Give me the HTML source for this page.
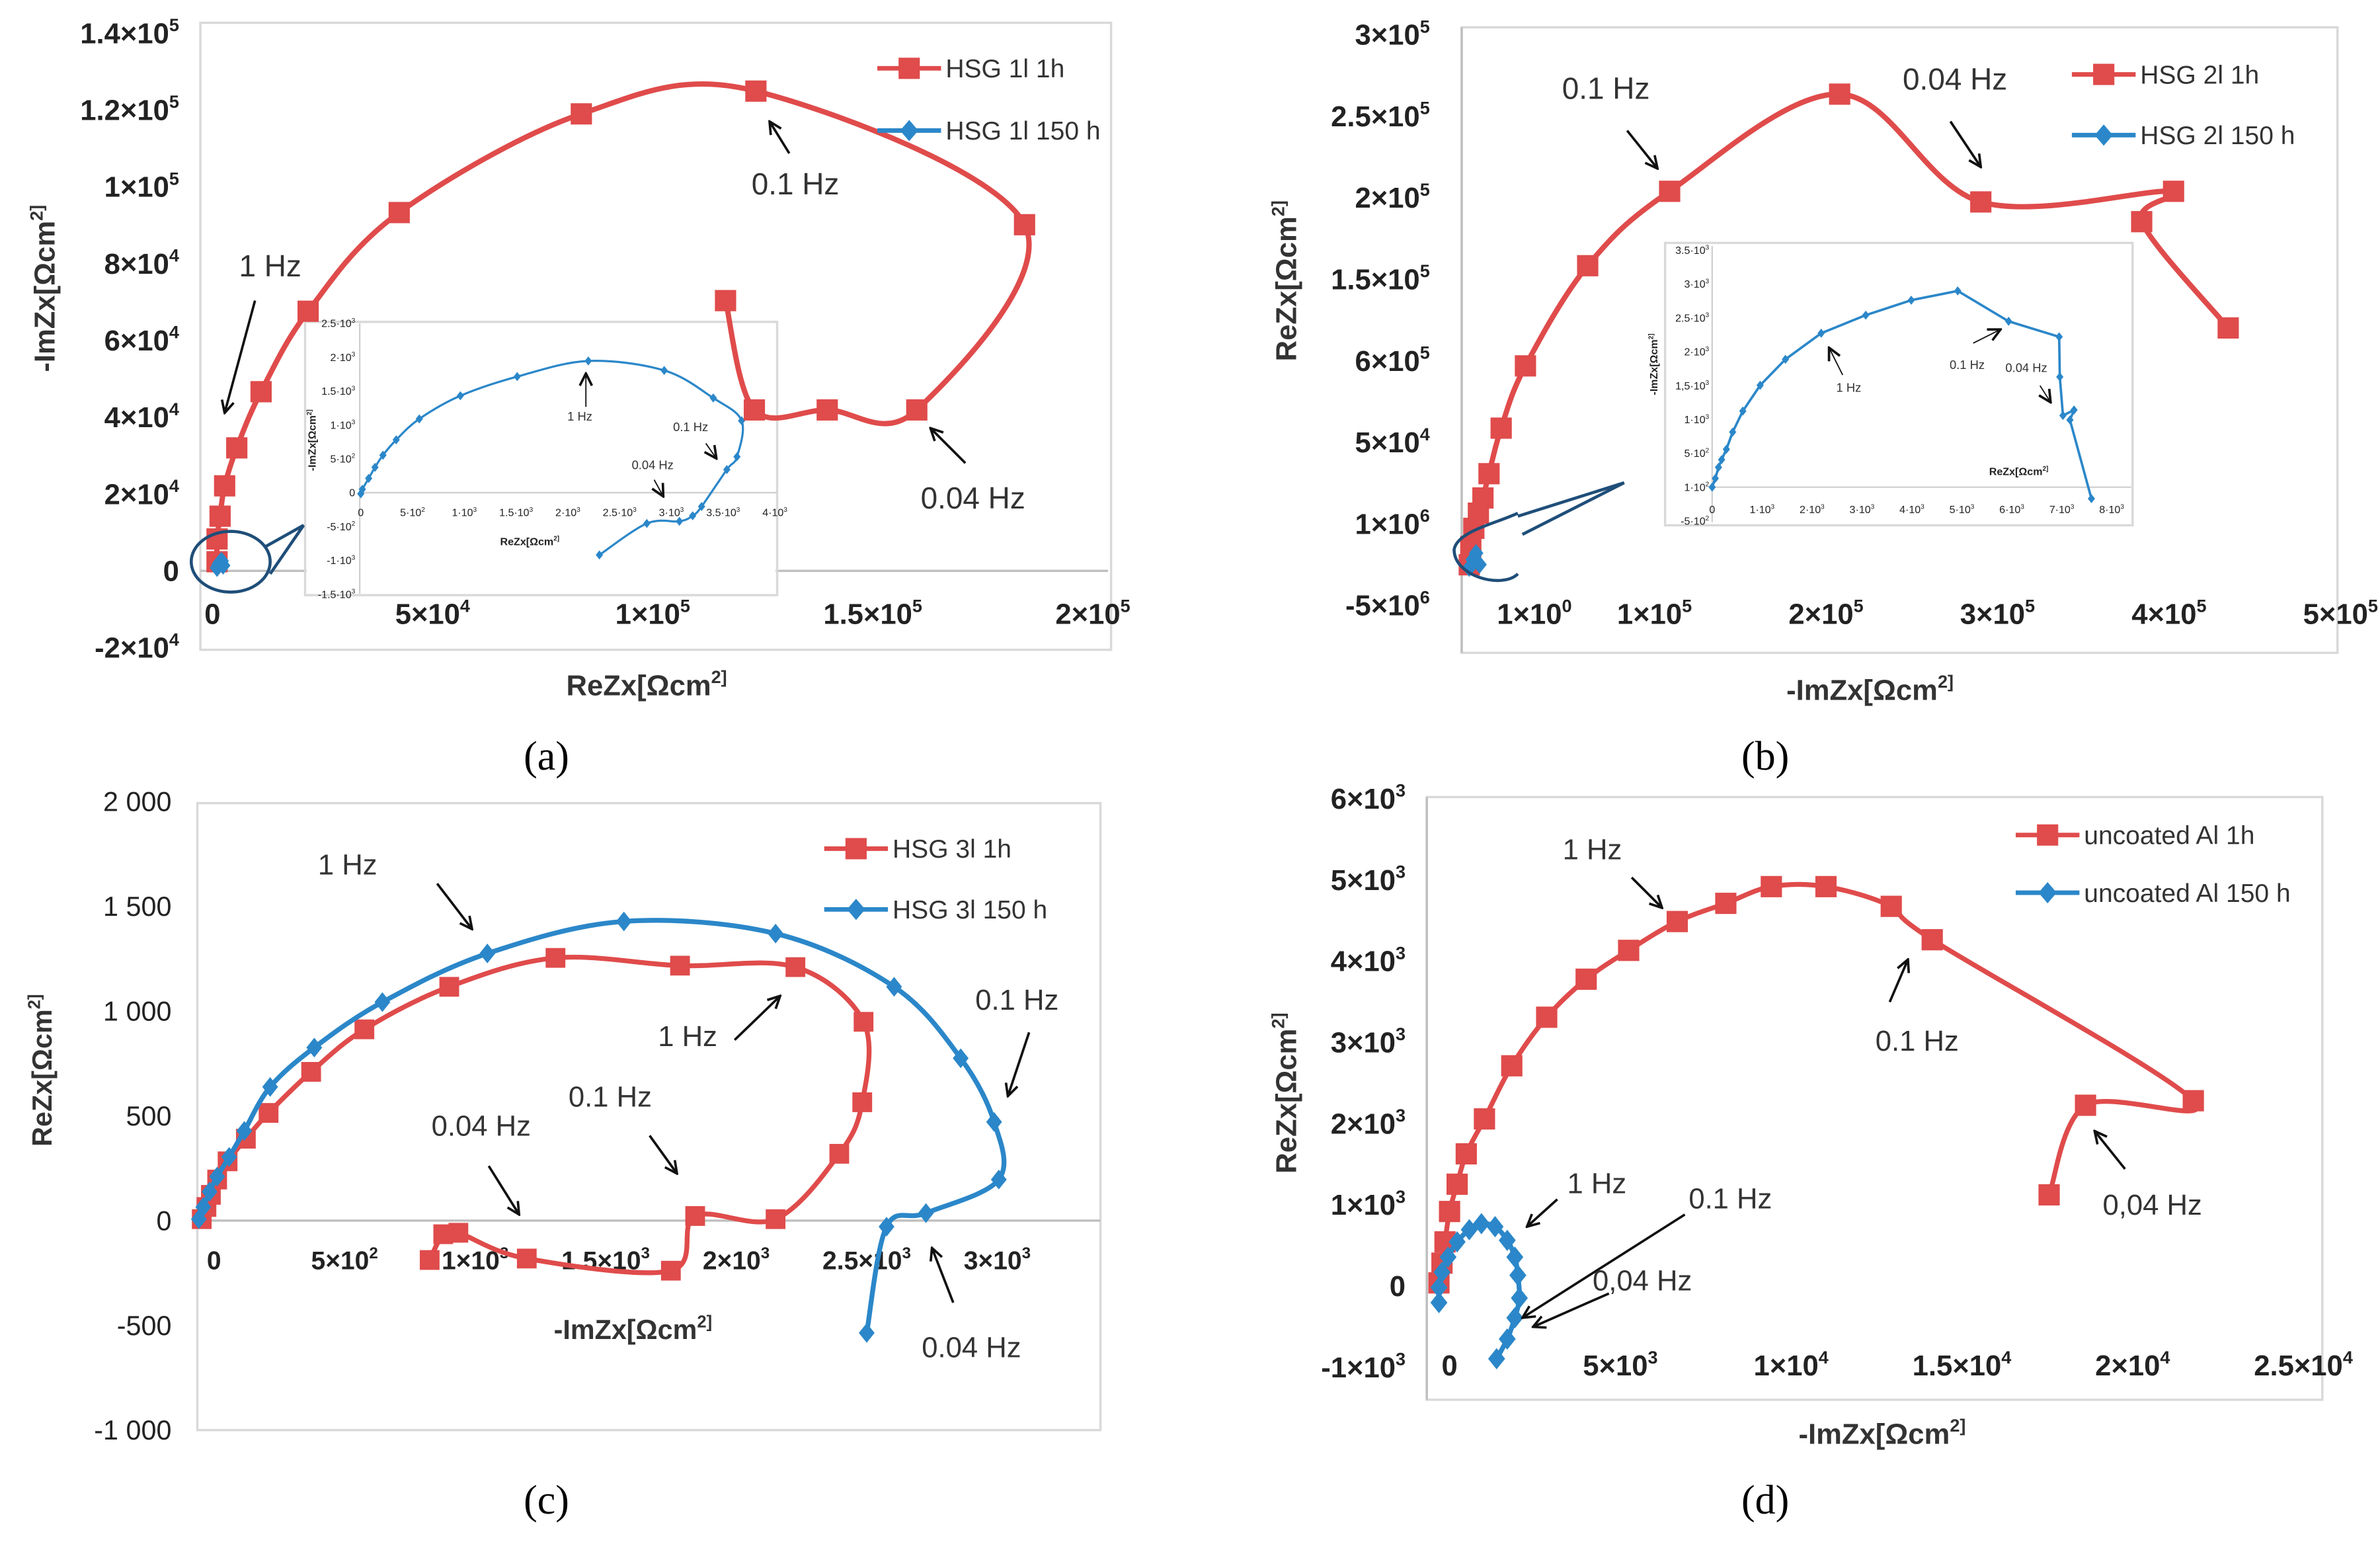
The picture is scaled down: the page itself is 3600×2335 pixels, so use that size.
<!DOCTYPE html>
<html><head><meta charset="utf-8"><style>html,body{margin:0;padding:0;background:#fff}svg{display:block}</style></head>
<body>
<svg id="fig" xmlns="http://www.w3.org/2000/svg" width="3600" height="2335" viewBox="0 0 1568 1017" font-family="Liberation Sans, DejaVu Sans, sans-serif">
<defs><marker id="ah" markerWidth="10" markerHeight="10" refX="9" refY="5" orient="auto" markerUnits="userSpaceOnUse"><path d="M1,1 L9,5 L1,9" fill="none" stroke="#111" stroke-width="1.6"/></marker></defs>
<rect width="1568" height="1017" fill="#fff"/>
</svg>
<script>
// ---------- data ----------
const aRedX=[1034,1034,1724,2759,5517,11034,21724,42414,83793,123448,184483,160000,139655,123103,116552];
const aRedY=[2372,8300,14229,22134,32016,46640,67589,93281,118972,124901,90119,41897,41897,41897,70356];
const aBlueX=[0,400,800,1200,1600];
const aBlueY=[0,900,1500,1800,600];
const aInX=[0,15,76,137,214,342,565,962,1511,2198,2931,3405,3679,3634,3536,3292,3206,3078,2763,2305];
const aInY=[-16,49,211,374,553,780,1089,1431,1714,1945,1805,1398,1063,530,341,-205,-341,-423,-455,-920];
const aXTicks=[0,50000,100000,150000,200000];
const aXLabels=["0","5×10^4","1×10^5","1.5×10^5","2×10^5"];
const aYTicks=[-20000,0,20000,40000,60000,80000,100000,120000,140000];
const aYLabels=["-2×10^4","0","2×10^4","4×10^4","6×10^4","8×10^4","1×10^5","1.2×10^5","1.4×10^5"];
const aInXTicks=[0,500,1000,1500,2000,2500,3000,3500,4000];
const aInXLabels=["0","5·10^2","1·10^3","1.5·10^3","2·10^3","2.5·10^3","3·10^3","3.5·10^3","4·10^3"];
const aInYTicks=[-1500,-1000,-500,0,500,1000,1500,2000,2500];
const aInYLabels=["-1.5·10^3","-1·10^3","-5·10^2","0","5·10^2","1·10^3","1.5·10^3","2·10^3","2.5·10^3"];

const bRedX=[-7965,-7080,-5310,-2655,0,3540,10619,24779,61062,108850,207965,290265,402655,384071,434513];
const bRedY=[-25140,-13966,-2793,6518,15829,30726,58659,96834,158287,203911,263501,197393,203911,185289,120112];
const bBlueX=[-8000,-6000,-4000,-2000];
const bBlueY=[-27000,-22000,-18000,-25000];
const bInX=[0,63,127,190,285,411,614,962,1468,2184,3076,3987,4918,5937,6949,6962,7025,7247,7165,7595];
const bInY=[0,130,293,407,560,814,1124,1505,1889,2274,2541,2762,2899,2450,2221,1629,1059,1140,993,-169];
const bXTicks=[30000,100000,200000,300000,400000,500000];
const bXLabels=["1×10^0","1×10^5","2×10^5","3×10^5","4×10^5","5×10^5"];
const bYTicks=[-50000,0,50000,100000,150000,200000,250000,300000];
const bYLabels=["-5×10^6","1×10^6","5×10^4","6×10^5","1.5×10^5","2×10^5","2.5×10^5","3×10^5"];
const bInXTicks=[0,1000,2000,3000,4000,5000,6000,7000,8000];
const bInXLabels=["0","1·10^3","2·10^3","3·10^3","4·10^3","5·10^3","6·10^3","7·10^3","8·10^3"];
const bInYTicks=[-500,0,500,1000,1500,2000,2500,3000,3500];
const bInYLabels=["-5·10^2","1·10^2","5·10^2","1·10^3","1,5·10^3","2·10^3","2.5·10^3","3·10^3","3.5·10^3"];

const cRedX=[-47,-29,-12,12,52,122,209,372,576,901,1308,1785,2227,2488,2483,2395,2151,1843,1750,1198,936,878,826];
const cRedY=[7,65,123,196,283,391,514,710,913,1116,1254,1217,1210,949,565,319,7,22,-239,-181,-58,-65,-188];
const cBlueX=[-58,-41,-17,12,58,116,215,384,645,1047,1570,2151,2605,2860,2988,3006,2727,2576,2500];
const cBlueY=[7,65,138,210,304,428,638,826,1043,1275,1428,1370,1116,775,471,196,36,-29,-536];
const cXTicks=[0,500,1000,1500,2000,2500,3000];
const cXLabels=["0","5×10^2","1×10^3","1.5×10^3","2×10^3","2.5×10^3","3×10^3"];
const cYTicks=[-1000,-500,0,500,1000,1500,2000];
const cYLabels=["-1 000","-500","0","500","1 000","1 500","2 000"];

const dRedX=[-311,-222,-133,0,222,489,1022,1822,2844,4000,5244,6667,8089,9422,11022,12933,14133,21778,18622,17556];
const dRedY=[37,280,542,916,1252,1626,2056,2710,3308,3776,4131,4486,4710,4916,4916,4673,4262,2280,2224,1121];
const dBlueX=[-311,-311,-222,-44,222,578,933,1333,1689,1911,2000,2044,1911,1689,1378];
const dBlueY=[-206,-19,168,355,542,692,766,729,561,355,131,-150,-393,-654,-897];
const dXTicks=[0,5000,10000,15000,20000,25000];
const dXLabels=["0","5×10^3","1×10^4","1.5×10^4","2×10^4","2.5×10^4"];
const dYTicks=[-1000,0,1000,2000,3000,4000,5000,6000];
const dYLabels=["-1×10^3","0","1×10^3","2×10^3","3×10^3","4×10^3","5×10^3","6×10^3"];

// ---------- helpers ----------
const NS="http://www.w3.org/2000/svg";
const svg=document.getElementById('fig');
const RED="#e04b4b", BLUE="#2b87c9";
function el(tag,attrs,parent){const e=document.createElementNS(NS,tag);for(const k in attrs)e.setAttribute(k,attrs[k]);(parent||svg).appendChild(e);return e;}
function txt(s,x,y,size,opts){opts=opts||{};
 const t=el('text',{x:x,y:y,'font-size':size,'text-anchor':opts.anchor||'start',fill:opts.fill||'#222','font-weight':opts.weight||'normal'},opts.parent);
 if(opts.rot)t.setAttribute('transform','rotate(-90 '+x+' '+y+')');
 if(opts.family)t.setAttribute('font-family',opts.family);
 const parts=s.split('^');
 const b=document.createElementNS(NS,'tspan');b.textContent=parts[0];t.appendChild(b);
 if(parts.length>1){const sp=document.createElementNS(NS,'tspan');sp.setAttribute('dy',-size*0.42);sp.setAttribute('font-size',size*0.62);sp.textContent=parts[1];t.appendChild(sp);}
 return t;}
function smooth(pts){let d='M'+pts[0][0]+','+pts[0][1];
 for(let i=0;i<pts.length-1;i++){const p0=pts[Math.max(0,i-1)],p1=pts[i],p2=pts[i+1],p3=pts[Math.min(pts.length-1,i+2)];
  const t=1/6;d+=' C'+(p1[0]+(p2[0]-p0[0])*t)+','+(p1[1]+(p2[1]-p0[1])*t)+' '+(p2[0]-(p3[0]-p1[0])*t)+','+(p2[1]-(p3[1]-p1[1])*t)+' '+p2[0]+','+p2[1];}
 return d;}
function series(xs,ys,sx,sy,color,marker,size,lw,name,smoothOn){
 const g=el('g',{});
 
 
 const pts=xs.map((v,i)=>[sx(v),sy(ys[i])]);
 const p=el('path',{d:smoothOn?smooth(pts):('M'+pts.map(q=>q.join(',')).join(' L')),fill:'none',stroke:color,'stroke-width':lw,'stroke-linejoin':'round'},g);
 
 
 pts.forEach(q=>{let m;
  if(marker==='sq'){m=el('rect',{x:q[0]-size/2,y:q[1]-size/2,width:size,height:size,fill:color},g);}
  else{const h=size/2;m=el('path',{d:'M'+q[0]+','+(q[1]-h)+' L'+(q[0]+h*0.8)+','+q[1]+' L'+q[0]+','+(q[1]+h)+' L'+(q[0]-h*0.8)+','+q[1]+'Z',fill:color},g);}
  
  
 });}
function arrow(x1,y1,x2,y2,w,name){const a=el('line',{x1:x1,y1:y1,x2:x2,y2:y2,stroke:'#111','stroke-width':w||1.6,'marker-end':'url(#ah)'});
 
 }
function frame(x,y,w,h,name){const r=el('rect',{x:x,y:y,width:w,height:h,fill:'none',stroke:'#d9d9d9','stroke-width':1.5});
 
 }
function hline(x1,x2,y,c,w){el('line',{x1:x1,x2:x2,y1:y,y2:y,stroke:c||'#bfbfbf','stroke-width':w||1.5});}
function vline(x,y1,y2,c,w){el('line',{x1:x,x2:x,y1:y1,y2:y2,stroke:c||'#bfbfbf','stroke-width':w||1.5});}
function xTicks(vals,labs,sx,y,size,weight){vals.forEach((v,i)=>{const t=txt(labs[i],sx(v),y,size,{anchor:'middle',weight:weight});
 
 });}
function yTicks(vals,labs,sy,x,size,weight){vals.forEach((v,i)=>{const t=txt(labs[i],x,sy(v)+size*0.35,size,{anchor:'end',weight:weight});
 
 });}
function legend(x,y,color,marker,label,name){
 const g=el('g',{});
 
 
 el('line',{x1:x,x2:x+42,y1:y,y2:y,stroke:color,'stroke-width':3},g);
 if(marker==='sq')el('rect',{x:x+14,y:y-7,width:14,height:14,fill:color},g);
 else el('path',{d:'M'+(x+21)+','+(y-7)+' L'+(x+27)+','+y+' L'+(x+21)+','+(y+7)+' L'+(x+15)+','+y+'Z',fill:color},g);
 txt(label,x+45,y+6,17,{parent:g,fill:'#333'});}
function label(s,x,y,size,name,anchor){const t=txt(s,x,y,size||18,{anchor:anchor||'middle',fill:'#333'});
 
 }
function title(s,x,y,rot,name,size){const t=txt(s,x,y,size||19,{anchor:'middle',weight:'bold',rot:rot,fill:'#333'});
 
 }
function panelLabel(s,x,y){const t=txt(s,x,y,27,{anchor:'middle',family:'Liberation Serif, serif',fill:'#000'});
 
 }

// ---------- panel a ----------
const xa=v=>140+v/2e5*580, ya=v=>376-v/2e4*50.6;
frame(132,15,600,413,'panel-a-plot-frame');
hline(132,730,ya(0));
yTicks(aYTicks,aYLabels,ya,118,19,'bold');
xTicks(aXTicks,aXLabels,xa,411,19,'bold');
title('ReZx[Ωcm^2]',426,458,false,'panel-a-x-axis-title');
title('-ImZx[Ωcm^2]',36,190,true,'panel-a-y-axis-title');
// inset a
const xai=v=>237.7+v*0.0682, yai=v=>324.5-v*0.0446;
frame(201,212,311,180,'panel-a-inset-frame');
el('rect',{x:202,y:213,width:309,height:178,fill:'#fff'});
hline(237,512,yai(0),'#d0d0d0',1);vline(237,213,391,'#d0d0d0',1);
xTicks(aInXTicks,aInXLabels,xai,340,7);
yTicks(aInYTicks,aInYLabels,yai,234,7);
txt('ReZx[Ωcm^2]',349,359,7,{anchor:'middle',weight:'bold'});
txt('-ImZx[Ωcm^2]',208,290,7,{anchor:'middle',weight:'bold',rot:true});
series(aInX,aInY,xai,yai,BLUE,'dm',6,1.4,'panel-a-inset-hsg1-150h',true);
label('1 Hz',382,277,8);arrow(386,268,386,246,0.8);
label('0.1 Hz',455,284,8);arrow(465,292,472,302,0.8);
label('0.04 Hz',430,309,8);arrow(431,316,437,327,0.8);
series(aRedX,aRedY,xa,ya,RED,'sq',14,3.5,'panel-a-hsg1-1h',true);
series(aBlueX,aBlueY,v=>143+v/400,v=>374-v/400,BLUE,'dm',12,3,'panel-a-hsg1-150h',false);
el('ellipse',{cx:152,cy:370,rx:26,ry:20,fill:'none',stroke:'#1f4e79','stroke-width':2});
el('path',{d:'M175,360 L200,346 L178,378',fill:'none',stroke:'#1f4e79','stroke-width':2});
label('1 Hz',178,182,20);arrow(168,198,148,272);
label('0.1 Hz',524,128,20);arrow(520,101,507,80);
label('0.04 Hz',641,335,20);arrow(636,305,613,282);
legend(578,45,RED,'sq','HSG 1l  1h','legend-hsg1-1h');
legend(578,86,BLUE,'dm','HSG 1l  150 h','legend-hsg1-150h');
panelLabel('(a)',360,507);

// ---------- panel b ----------
const xb=v=>977+v/1e5*113, yb=v=>345-v/5e4*53.7;
frame(963,18,577,412,'panel-b-plot-frame');
vline(963,18,430);
yTicks(bYTicks,bYLabels,yb,942,19,'bold');
xTicks(bXTicks,bXLabels,xb,411,19,'bold');
title('-ImZx[Ωcm^2]',1232,461,false,'panel-b-x-axis-title');
title('ReZx[Ωcm^2]',854,185,true,'panel-b-y-axis-title');
const xbi=v=>1128+v/1000*32.9, ybi=v=>320.9-v/1000*44.6;
frame(1097,160,308,186,'panel-b-inset-frame');
hline(1128,1404,ybi(0),'#d0d0d0',1);vline(1128,162,344,'#d0d0d0',1);
xTicks(bInXTicks,bInXLabels,xbi,338,7);
yTicks(bInYTicks,bInYLabels,ybi,1126,7);
txt('ReZx[Ωcm^2]',1330,313,7,{anchor:'middle',weight:'bold'});
txt('-ImZx[Ωcm^2]',1092,240,7,{anchor:'middle',weight:'bold',rot:true});
series(bInX,bInY,xbi,ybi,BLUE,'dm',6,1.6,'panel-b-inset-hsg2-150h',false);
label('1 Hz',1218,258,8);arrow(1214,247,1205,229,0.8);
label('0.1 Hz',1296,243,8);arrow(1300,226,1318,217,0.8);
label('0.04 Hz',1335,245,8);arrow(1344,254,1351,265,0.8);
series(bRedX,bRedY,xb,yb,RED,'sq',14,3.5,'panel-b-hsg2-1h',true);
series(bBlueX,bBlueY,xb,yb,BLUE,'dm',12,3,'panel-b-hsg2-150h',false);
el('path',{d:'M1000,338 C985,345 960,350 958,362 C958,380 990,388 1000,378',fill:'none',stroke:'#1f4e79','stroke-width':2});
el('path',{d:'M1000,340 L1070,318 L1003,352',fill:'none',stroke:'#1f4e79','stroke-width':2});
label('0.1 Hz',1058,65,20);arrow(1072,86,1092,111);
label('0.04 Hz',1288,59,20);arrow(1285,80,1305,110);
legend(1365,49,RED,'sq','HSG 2l  1h','legend-hsg2-1h');
legend(1365,89,BLUE,'dm','HSG 2l  150 h','legend-hsg2-150h');
panelLabel('(b)',1163,507);

// ---------- panel c ----------
const xc=v=>141+v/500*86, yc=v=>804-v/500*69;
frame(130,529,595,413,'panel-c-plot-frame');
hline(130,725,yc(0));
yTicks(cYTicks,cYLabels,yc,113,18);
xTicks(cXTicks,cXLabels,xc,836,17,'bold');
title('-ImZx[Ωcm^2]',417,882,false,'panel-c-x-axis-title',18);
title('ReZx[Ωcm^2]',34,705,true,'panel-c-y-axis-title',18);
series(cRedX,cRedY,xc,yc,RED,'sq',13,3.2,'panel-c-hsg3-1h',true);
series(cBlueX,cBlueY,xc,yc,BLUE,'dm',13,3.2,'panel-c-hsg3-150h',true);
label('1 Hz',229,576,19);arrow(288,582,311,612);
label('1 Hz',453,689,19);arrow(484,685,514,656);
label('0.1 Hz',402,729,19);arrow(428,748,446,773);
label('0.04 Hz',317,748,19);arrow(322,768,342,800);
label('0.1 Hz',670,665,19);arrow(678,680,664,722);
label('0.04 Hz',640,894,19);arrow(628,858,614,822);
legend(543,559,RED,'sq','HSG 3l  1h','legend-hsg3-1h');
legend(543,599,BLUE,'dm','HSG 3l  150 h','legend-hsg3-150h');
panelLabel('(c)',360,997);

// ---------- panel d ----------
const xd=v=>955+v/5000*112.5, yd=v=>847-v/1000*53.5;
frame(940,525,590,397,'panel-d-plot-frame');
vline(940,525,922);
yTicks(dYTicks,dYLabels,yd,926,19,'bold');
xTicks(dXTicks,dXLabels,xd,906,19,'bold');
title('-ImZx[Ωcm^2]',1240,951,false,'panel-d-x-axis-title');
title('ReZx[Ωcm^2]',854,720,true,'panel-d-y-axis-title');
series(dRedX,dRedY,xd,yd,RED,'sq',14,3.2,'panel-d-uncoated-1h',true);
series(dBlueX,dBlueY,xd,yd,BLUE,'dm',14,3.2,'panel-d-uncoated-150h',true);
label('1 Hz',1049,566,19);arrow(1075,578,1095,598);
label('0.1 Hz',1263,692,19);arrow(1245,660,1257,632);
label('0,04 Hz',1418,800,19);arrow(1400,770,1380,745);
label('1 Hz',1052,786,19);arrow(1026,790,1006,808);
label('0.1 Hz',1140,796,19);arrow(1110,800,1003,868);
label('0,04 Hz',1082,850,19);arrow(1060,852,1010,874);
legend(1328,550,RED,'sq','uncoated Al 1h','legend-uncoated-1h');
legend(1328,588,BLUE,'dm','uncoated Al  150 h','legend-uncoated-150h');
panelLabel('(d)',1163,997);
</script>
</body></html>
